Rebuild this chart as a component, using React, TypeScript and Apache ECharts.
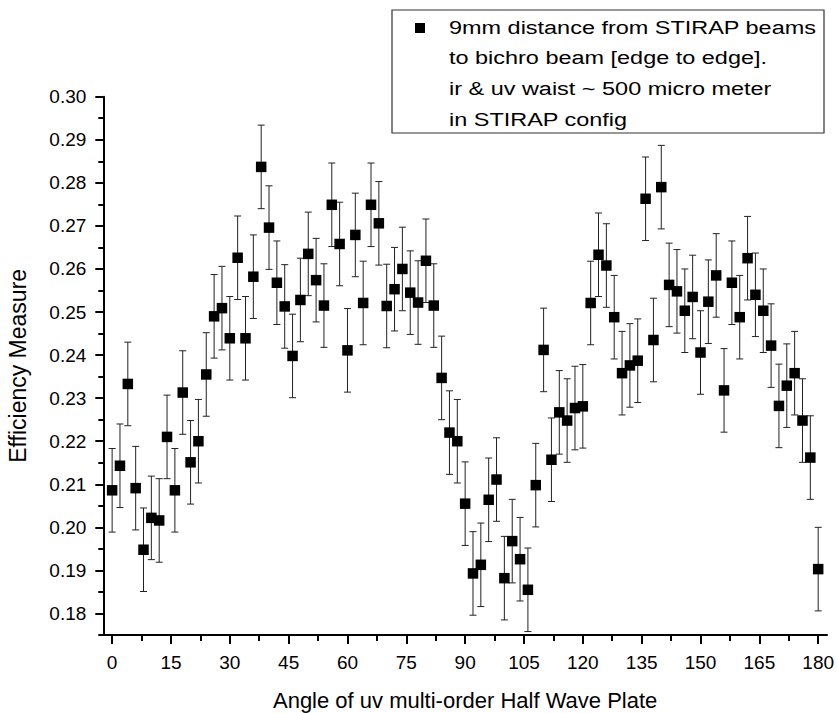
import React, { useEffect, useRef } from "react";
import * as echarts from "echarts";

const ANGLES = [
  0, 2, 4, 6, 8, 10, 12, 14, 16, 18, 20, 22, 24, 26, 28, 30, 32, 34, 36, 38,
  40, 42, 44, 46, 48, 50, 52, 54, 56, 58, 60, 62, 64, 66, 68, 70, 72, 74, 76, 78,
  80, 82, 84, 86, 88, 90, 92, 94, 96, 98, 100, 102, 104, 106, 108, 110, 112, 114, 116, 118,
  120, 122, 124, 126, 128, 130, 132, 134, 136, 138, 140, 142, 144, 146, 148, 150, 152, 154, 156, 158,
  160, 162, 164, 166, 168, 170, 172, 174, 176, 178, 180,
];

const EFFICIENCY = [
  0.2086, 0.2143, 0.2333, 0.2091, 0.1948, 0.2022, 0.2016, 0.2210, 0.2086, 0.2313,
  0.2151, 0.2200, 0.2355, 0.2490, 0.2509, 0.2439, 0.2626, 0.2439, 0.2582, 0.2837,
  0.2696, 0.2568, 0.2513, 0.2398, 0.2528, 0.2635, 0.2574, 0.2515, 0.2749, 0.2658,
  0.2411, 0.2679, 0.2521, 0.2749, 0.2706, 0.2514, 0.2553, 0.2600, 0.2545, 0.2522,
  0.2619, 0.2515, 0.2347, 0.2220, 0.2200, 0.2055, 0.1893, 0.1913, 0.2064, 0.2111,
  0.1882, 0.1968, 0.1926, 0.1855, 0.2098, 0.2412, 0.2157, 0.2267, 0.2248, 0.2277,
  0.2281, 0.2521, 0.2633, 0.2608, 0.2488, 0.2358, 0.2376, 0.2387, 0.2763, 0.2435,
  0.2790, 0.2563, 0.2548, 0.2503, 0.2535, 0.2406, 0.2524, 0.2585, 0.2318, 0.2568,
  0.2488, 0.2625, 0.2540, 0.2503, 0.2422, 0.2282, 0.2329, 0.2358, 0.2248, 0.2162,
  0.1903,
];

// half-length of the error bars (read as roughly constant)
const ERROR_HALF = 0.0097;

const X_MAJOR_TICKS = [0, 15, 30, 45, 60, 75, 90, 105, 120, 135, 150, 165, 180];
const X_MINOR_TICKS = [7.5, 22.5, 37.5, 52.5, 67.5, 82.5, 97.5, 112.5, 127.5, 142.5, 157.5, 172.5];
const Y_MAJOR_TICKS = [0.18, 0.19, 0.2, 0.21, 0.22, 0.23, 0.24, 0.25, 0.26, 0.27, 0.28, 0.29, 0.3];
const Y_MINOR_TICKS = [0.175, 0.185, 0.195, 0.205, 0.215, 0.225, 0.235, 0.245, 0.255, 0.265, 0.275, 0.285, 0.295];

const LEGEND_LINES = [
  "9mm distance from STIRAP beams",
  "to bichro beam [edge to edge].",
  "ir & uv waist ~ 500 micro meter",
  "in STIRAP config",
];

const X_TITLE = "Angle of uv multi-order Half Wave Plate";
const Y_TITLE = "Efficiency Measure";

const FONT = "Liberation Sans";

export default function App() {
  const ref = useRef<HTMLDivElement>(null);

  useEffect(() => {
    document.body.style.margin = "0";
    if (!ref.current) return;
    const chart = echarts.init(ref.current, null, { renderer: "svg" });

    const points = ANGLES.map((a, i) => [a, EFFICIENCY[i]]);
    const errData = ANGLES.map((a, i) => [a, EFFICIENCY[i], ERROR_HALF]);

    const axisLineStyle = { color: "#000", width: 2 };
    const xMin = -2.25;
    const xMax = 182.25;
    const yMin = 0.175;
    const yMax = 0.3;

    const legendGraphics: any[] = [
      {
        type: "rect",
        shape: { x: 392, y: 10, width: 432, height: 123 },
        style: { fill: "#fff", stroke: "#333", lineWidth: 1.2 },
        z: 100,
      },
      {
        type: "rect",
        shape: { x: 415, y: 23, width: 10, height: 10 },
        style: { fill: "#000" },
        z: 101,
      },
    ];
    const lineMids = [27.5, 58.2, 88.8, 119.5];
    LEGEND_LINES.forEach((t, i) => {
      legendGraphics.push({
        type: "text",
        x: 449,
        y: lineMids[i],
        scaleX: 1.235,
        z: 101,
        style: {
          text: t,
          fontSize: 19,
          fontFamily: FONT,
          fill: "#000",
          verticalAlign: "middle",
          align: "left",
        },
      });
    });

    chart.setOption({
      animation: false,
      backgroundColor: "#fff",
      grid: {
        left: 103.3,
        right: 11,
        top: 96.7,
        bottom: 78,
        containLabel: false,
        outerBoundsMode: "none",
      },
      xAxis: [
        {
          type: "value",
          min: xMin,
          max: xMax,
          position: "bottom",
          name: X_TITLE,
          nameLocation: "middle",
          nameGap: 54,
          nameTextStyle: { fontSize: 22, fontFamily: FONT, color: "#000" },
          axisLine: { show: true, onZero: false, lineStyle: axisLineStyle },
          axisTick: { show: true, length: 9, lineStyle: axisLineStyle, customValues: X_MAJOR_TICKS },
          axisLabel: {
            customValues: X_MAJOR_TICKS,
            fontSize: 19,
            fontFamily: FONT,
            color: "#000",
            margin: 18,
          },
          splitLine: { show: false },
        },
        {
          type: "value",
          min: xMin,
          max: xMax,
          position: "bottom",
          axisLine: { show: false, onZero: false },
          axisTick: { show: true, length: 6, lineStyle: axisLineStyle, customValues: X_MINOR_TICKS },
          axisLabel: { show: false },
          splitLine: { show: false },
        },
      ],
      yAxis: [
        {
          type: "value",
          min: yMin,
          max: yMax,
          position: "left",
          name: Y_TITLE,
          nameLocation: "middle",
          nameGap: 74,
          nameTextStyle: { fontSize: 23, fontFamily: FONT, color: "#000" },
          axisLine: { show: true, onZero: false, lineStyle: axisLineStyle },
          axisTick: { show: true, length: 8, lineStyle: axisLineStyle, customValues: Y_MAJOR_TICKS },
          axisLabel: {
            customValues: Y_MAJOR_TICKS,
            fontSize: 19,
            fontFamily: FONT,
            color: "#000",
            margin: 17,
            formatter: (v: number) => v.toFixed(2),
          },
          splitLine: { show: false },
        },
        {
          type: "value",
          min: yMin,
          max: yMax,
          position: "left",
          axisLine: { show: false, onZero: false },
          axisTick: { show: true, length: 5, lineStyle: axisLineStyle, customValues: Y_MINOR_TICKS },
          axisLabel: { show: false },
          splitLine: { show: false },
        },
      ],
      graphic: legendGraphics,
      series: [
        {
          type: "custom",
          xAxisIndex: 0,
          yAxisIndex: 0,
          data: errData,
          z: 2,
          renderItem: (params: any, api: any) => {
            const x = api.value(0);
            const y = api.value(1);
            const e = api.value(2);
            const top = api.coord([x, y + e]);
            const bot = api.coord([x, y - e]);
            const cap = 3.5;
            const st = { stroke: "#222", lineWidth: 1 };
            return {
              type: "group",
              children: [
                { type: "line", shape: { x1: top[0], y1: top[1], x2: bot[0], y2: bot[1] }, style: st },
                { type: "line", shape: { x1: top[0] - cap, y1: top[1], x2: top[0] + cap, y2: top[1] }, style: st },
                { type: "line", shape: { x1: bot[0] - cap, y1: bot[1], x2: bot[0] + cap, y2: bot[1] }, style: st },
              ],
            };
          },
        },
        {
          type: "scatter",
          xAxisIndex: 0,
          yAxisIndex: 0,
          data: points,
          symbol: "rect",
          symbolSize: 10.5,
          itemStyle: { color: "#000", opacity: 1 },
          z: 3,
        },
      ],
    });

    return () => chart.dispose();
  }, []);

  return (
    <div
      ref={ref}
      style={{ position: "absolute", left: 0, top: 0, width: 838, height: 713, background: "#fff" }}
    />
  );
}
